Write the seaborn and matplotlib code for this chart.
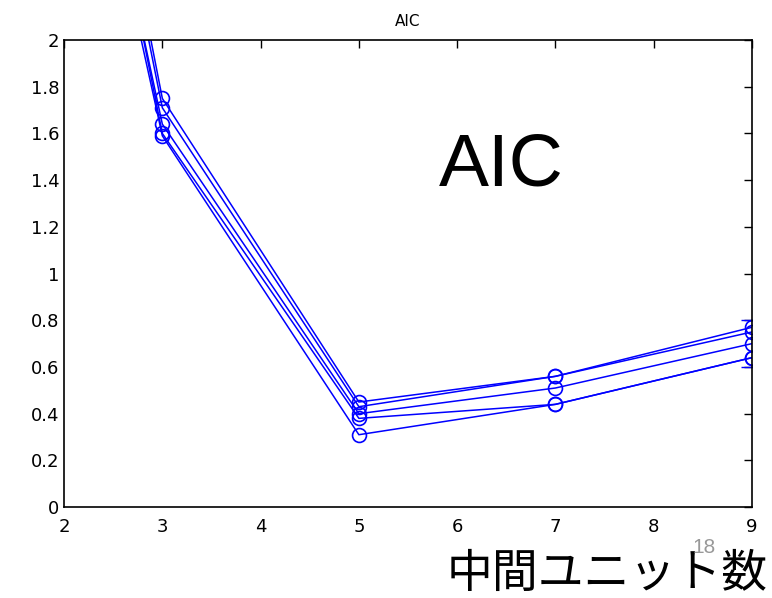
import matplotlib
matplotlib.use("Agg")
import matplotlib.pyplot as plt
import pandas as pd
import seaborn as sns

# Hidden units vs AIC, one list per run
units = [2, 3, 5, 7, 9]
run1 = [3.9, 1.75, 0.45, 0.56, 0.77]
run2 = [3.8, 1.71, 0.43, 0.56, 0.75]
run3 = [3.6, 1.64, 0.40, 0.51, 0.70]
run4 = [3.7, 1.60, 0.38, 0.44, 0.64]
run5 = [3.5, 1.59, 0.31, 0.44, 0.64]
runs = [run1, run2, run3, run4, run5]

# error bar at the last point
err_x = [9]
err_y = [0.70]
err_size = [0.10]

x_ticks = [2, 3, 4, 5, 6, 7, 8, 9]
y_ticks = [0, 0.2, 0.4, 0.6, 0.8, 1, 1.2, 1.4, 1.6, 1.8, 2]
y_labels = ["0", "0.2", "0.4", "0.6", "0.8", "1", "1.2", "1.4", "1.6", "1.8", "2"]

sns.set_style("white")
plt.rcParams['font.family'] = ['DejaVu Sans', 'Noto Sans CJK JP']
plt.rcParams['text.color'] = 'black'

fig = plt.figure(figsize=(7.72, 5.98), dpi=100)
ax = fig.add_axes([0.083, 0.152, 0.891, 0.781])

rows = []
for i, r in enumerate(runs):
    for u, v in zip(units, r):
        rows.append({"units": u, "aic": v, "run": i})
df = pd.DataFrame(rows)

sns.lineplot(data=df, x="units", y="aic", hue="run", units="run", estimator=None,
             palette=["#0000ff"] * len(runs), marker="o", markersize=10,
             markerfacecolor="none", markeredgecolor="#0000ff", markeredgewidth=1.2,
             linewidth=1.1, legend=False, ax=ax)

ax.errorbar(err_x, err_y, yerr=err_size, fmt="none", ecolor="#0000ff",
            capsize=8, elinewidth=1, clip_on=True)

ax.set_xlim(2, 9)
ax.set_ylim(0, 2)
ax.set_xticks(x_ticks)
ax.set_yticks(y_ticks)
ax.set_yticklabels(y_labels)
ax.tick_params(direction="in", top=True, right=True, length=6, labelsize=13,
               colors="black", width=1)
ax.tick_params(axis="x", pad=8)
for s in ax.spines.values():
    s.set_color("black")
    s.set_linewidth(1.2)
ax.set_xlabel("")
ax.set_ylabel("")
ax.set_title("AIC", fontsize=11, pad=10, color="black")

ax.text(0.545, 0.73, "AIC", transform=ax.transAxes, fontsize=54, color="black",
        family=["Liberation Sans", "DejaVu Sans"], ha="left", va="center")

fig.text(0.995, 0.0, "中間ユニット数", fontsize=33, ha="right", va="bottom",
         color="black", family=["Noto Sans CJK JP", "DejaVu Sans"])
fig.text(0.912, 0.068, "18", fontsize=15, color="#999999", ha="center", va="bottom",
         family=["Liberation Sans", "DejaVu Sans"])

fig.savefig("out.png", dpi=100)
